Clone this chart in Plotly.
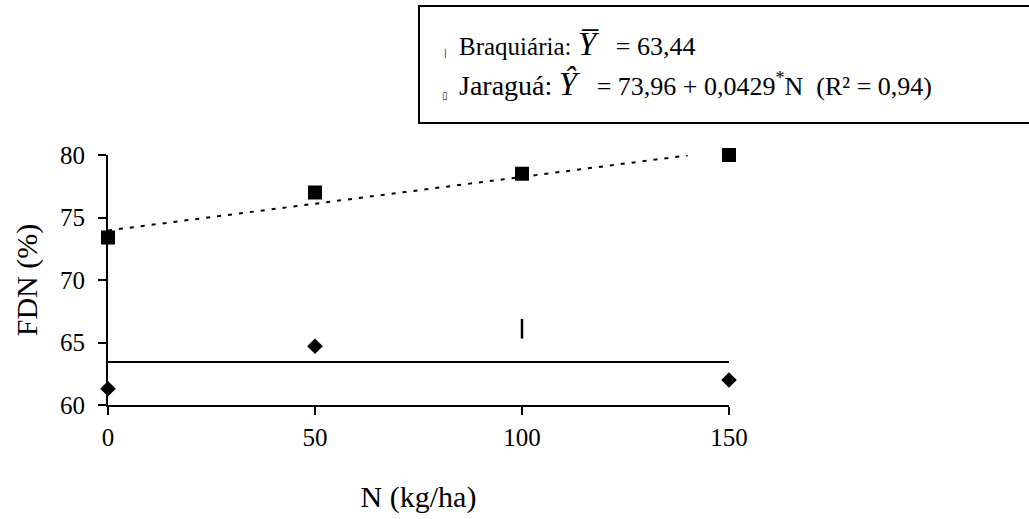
import plotly.graph_objects as go

# Data
n_levels = [0, 50, 100, 150]
braquiaria = [61.3, 64.7, 66.1, 62.0]
jaragua = [73.4, 77.0, 78.5, 80.0]
braq_mean = 63.44
jar_a = 73.96
jar_b = 0.0429
jar_fit_x = [0, 140]
x_ticks = [0, 50, 100, 150]
y_ticks = [60, 65, 70, 75, 80]

SERIF = "'Liberation Serif', 'Times New Roman', serif"

fig = go.Figure()

# Braquiária mean line
fig.add_trace(go.Scatter(x=[n_levels[0], n_levels[-1]], y=[braq_mean, braq_mean],
                         mode="lines", line=dict(color="black", width=2),
                         showlegend=False, hoverinfo="skip"))
# Jaraguá regression line
fig.add_trace(go.Scatter(x=jar_fit_x, y=[jar_a + jar_b * v for v in jar_fit_x],
                         mode="lines", line=dict(color="black", width=2, dash="4px,7px"),
                         showlegend=False, hoverinfo="skip"))
# Braquiária points (the 100 kg/ha point is drawn as a thin bar in the reference)
diamond_idx = [0, 1, 3]
fig.add_trace(go.Scatter(x=[n_levels[i] for i in diamond_idx],
                         y=[braquiaria[i] for i in diamond_idx], mode="markers",
                         marker=dict(symbol="diamond", size=12, color="black", opacity=1,
                                     line=dict(width=0)),
                         cliponaxis=False, showlegend=False))
fig.add_trace(go.Scatter(x=[n_levels[2]], y=[braquiaria[2]], mode="markers",
                         marker=dict(symbol="line-ns", size=14, opacity=1,
                                     line=dict(color="black", width=2.5)),
                         cliponaxis=False, showlegend=False))
# Jaraguá points
fig.add_trace(go.Scatter(x=n_levels, y=jaragua, mode="markers",
                         marker=dict(symbol="square", size=14, color="black", opacity=1,
                                     line=dict(width=0)),
                         cliponaxis=False, showlegend=False))

tick_font = dict(family=SERIF, size=25, color="black")
title_font = dict(family=SERIF, size=30, color="black")

fig.update_layout(
    width=1029, height=519,
    margin=dict(l=108, r=300, t=155, b=114),
    plot_bgcolor="white", paper_bgcolor="white",
    font=dict(family=SERIF, color="black"),
    xaxis=dict(range=[0, 150], tickvals=x_ticks, showgrid=False, zeroline=False,
               showline=True, linecolor="black", linewidth=2, automargin=False,
               ticks="outside", ticklen=8, tickwidth=2, tickcolor="black",
               ticklabelstandoff=1, tickfont=tick_font,
               title=dict(text="N (kg/ha)", font=title_font, standoff=36)),
    yaxis=dict(range=[60, 80], tickvals=y_ticks, showgrid=False, zeroline=False,
               showline=True, linecolor="black", linewidth=2, automargin=False,
               ticks="outside", ticklen=8, tickwidth=2, tickcolor="black",
               ticklabelstandoff=8, tickfont=tick_font,
               title=dict(text="FDN (%)", font=title_font, standoff=14)),
)

# Legend box
fig.add_shape(type="rect", xref="paper", yref="paper",
              x0=(419 - 108) / 621, x1=(1035 - 108) / 621,
              y0=(405 - 123) / 250, y1=(405 - 6) / 250,
              line=dict(color="black", width=2), fillcolor="white", layer="above")

fig.add_annotation(xref="paper", yref="paper", x=(457 - 108) / 621, y=(405 - 44) / 250,
                   xanchor="left", yanchor="middle", showarrow=False,
                   font=dict(family=SERIF, size=26, color="black"),
                   text="<span style='font-size:25px'>Braquiária:</span> <span style='font-size:33px'><i>Y\u0305</i></span>   = 63,44")
fig.add_annotation(xref="paper", yref="paper", x=(457 - 108) / 621, y=(405 - 84) / 250,
                   xanchor="left", yanchor="middle", showarrow=False,
                   font=dict(family=SERIF, size=26, color="black"),
                   text="<span style='font-size:28px'>Jaraguá:</span> <span style='font-size:33px'><i>Ŷ</i></span>   = 73,96 + 0,0429<sup>*</sup>N  (R² = 0,94)")
fig.add_annotation(xref="paper", yref="paper", x=(445 - 108) / 621, y=(405 - 53) / 250,
                   xanchor="center", yanchor="middle", showarrow=False,
                   font=dict(family="DejaVu Sans", size=8, color="black"), text="|")
fig.add_annotation(xref="paper", yref="paper", x=(445 - 108) / 621, y=(405 - 95) / 250,
                   xanchor="center", yanchor="middle", showarrow=False,
                   font=dict(family="DejaVu Sans", size=10, color="black"), text="▯")

fig.write_html("out.html")
